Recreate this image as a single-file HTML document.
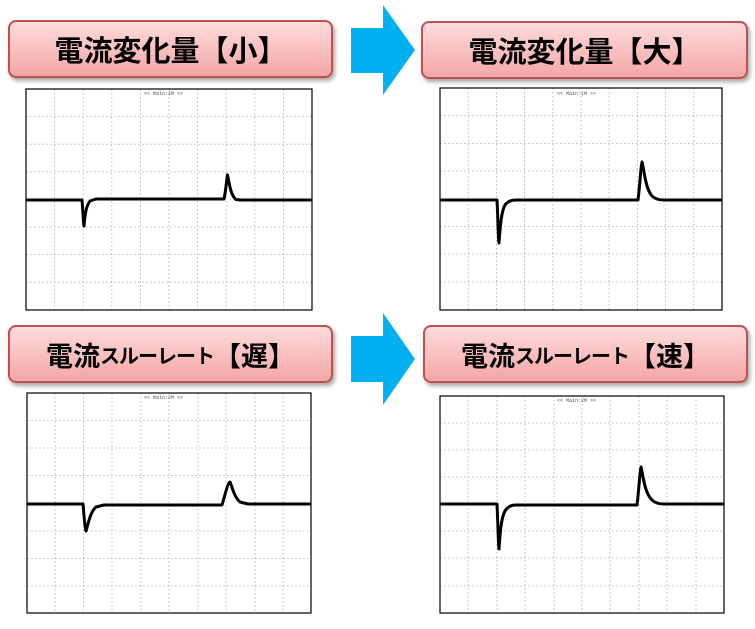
<!DOCTYPE html>
<html><head><meta charset="utf-8"><style>
body{margin:0;width:755px;height:629px;background:#fff;overflow:hidden;position:relative;font-family:"Liberation Sans","Noto Sans CJK JP",sans-serif}
.b{position:absolute;height:58px;border:2px solid #c0504d;border-radius:8px;background:linear-gradient(#ffdcdc,#f4a6a6);box-shadow:2px 3px 4px rgba(0,0,0,.35);display:flex;align-items:center;justify-content:center;font-weight:bold;font-size:29px;color:#000;box-sizing:border-box}
svg{position:absolute;left:0;top:0}
</style></head><body>
<div class="b" style="left:8px;top:20px;width:325px">電流変化量【小】</div>
<div class="b" style="left:421px;top:21px;width:327px">電流変化量【大】</div>
<div class="b" style="left:8px;top:325px;width:325px;font-size:27px">電流<span style="font-size:20px;letter-spacing:-1px">スルーレート</span>【遅】</div>
<div class="b" style="left:423px;top:325px;width:325px;font-size:27px">電流<span style="font-size:20px;letter-spacing:-1px">スルーレート</span>【速】</div>
<svg width="755" height="629">
<polygon points="351,28 383,28 383,5 415,50 383,95 383,73 351,73" fill="#00b0f0"/>
<polygon points="351,336 383,336 383,313 415,359 383,405 383,382 351,382" fill="#00b0f0"/>
<g fill="none" stroke="#000">
<g stroke="#aaa" stroke-width="0.8" stroke-dasharray="1.5 2.5">
<path d="M54.6 89V310M83.2 89V310M111.8 89V310M140.4 89V310M169 89V310M197.6 89V310M226.2 89V310M254.8 89V310M283.4 89V310M26 116.6H312M26 144.2H312M26 171.8H312M26 227H312M26 254.6H312M26 282.2H312"/>
<path d="M468.2 88V310M496.4 88V310M524.6 88V310M552.8 88V310M581 88V310M609.2 88V310M637.4 88V310M665.6 88V310M693.8 88V310M440 115.7H722M440 143.4H722M440 171H722M440 226.5H722M440 254H722M440 282H722"/>
<path d="M55 393V613M83.6 393V613M112 393V613M141 393V613M169 393V613M198 393V613M226 393V613M255 393V613M283 393V613M27 420.5H311M27 448H311M27 475.5H311M27 531H311M27 558.5H311M27 586H311"/>
<path d="M468 396V613M497 396V613M525 396V613M554 396V613M582 396V613M610 396V613M639 396V613M667 396V613M696 396V613M440 423H724M440 450H724M440 477H724M440 531H724M440 558H724M440 586H724"/>
</g>
<rect x="26" y="89" width="286" height="221" stroke-width="1.2"/>
<rect x="440" y="88" width="282" height="222" stroke-width="1.2"/>
<rect x="27" y="393" width="284" height="220" stroke-width="1.2"/>
<rect x="440" y="396" width="284" height="217" stroke-width="1.2"/>
<g stroke-width="3" stroke-linejoin="round">
<path d="M26 200H82C83 210 83.5 226 84 226C85 215 86 206 90 201L96 199H224C226 190 227 176 227.5 175C229 180 230 195 236 199.5L240 200H312"/>
<path d="M440 200H497C498 220 498.5 243 499 243C500 230 501 212 505 205C508 201 512 200 516 200H638C640 185 641 163 642 162C644 168 645 188 652 196C655 199 660 200 664 200H722"/>
<path d="M27 504H83C84 515 85 530 86 531C88 525 90 512 96 507L104 505H222C225 495 228 482 230 482C232 486 234 497 240 502L248 504H311"/>
<path d="M440 504H497C498 525 498.5 549 499 549C500 535 501 518 505 511C508 506 512 505 516 505H637C639 490 640 468 641 467C643 474 644 492 652 500C655 503 660 504 664 504H724"/>
</g>
</g>
<g font-family="Liberation Mono,monospace" font-size="5" fill="#555">
<text x="144" y="95">&lt;&lt; Main:1M &gt;&gt;</text>
<text x="557" y="95">&lt;&lt; Main:1M &gt;&gt;</text>
<text x="144" y="399">&lt;&lt; Main:2M &gt;&gt;</text>
<text x="557" y="402">&lt;&lt; Main:2M &gt;&gt;</text>
</g>
</svg>
</body></html>
